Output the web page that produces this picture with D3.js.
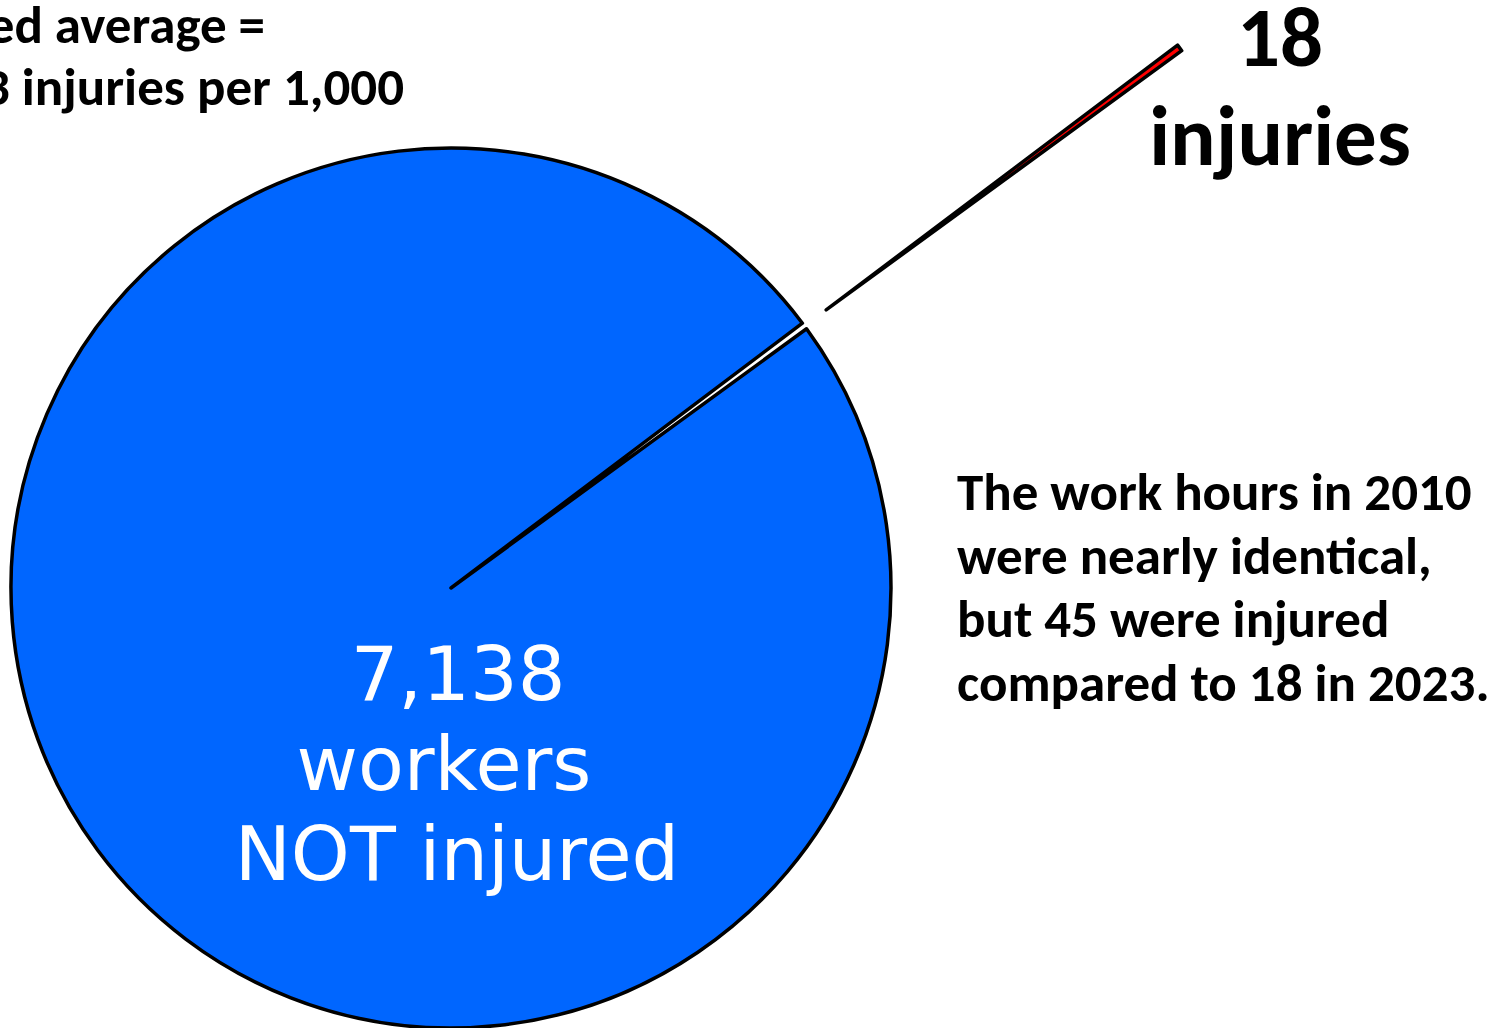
<!DOCTYPE html>
<html>
<head>
<meta charset="utf-8">
<script src="https://cdn.jsdelivr.net/npm/d3@7"></script>
<style>
  body { margin: 0; background: #fff; }
  svg { display: block; }
</style>
</head>
<body>
<script>
const w = 1505;
const h = 1028;

// data
const categories = ['injured', 'not injured'];
const counts = [18, 7138];
const colors = ['#FF0000', '#0066FF'];
const injuredLines = ['18', 'injuries'];
const notInjuredLines = ['7,138', 'workers', 'NOT injured'];
const noteLines = ['The work hours in 2010', 'were nearly identical,', 'but 45 were injured', 'compared to 18 in 2023.'];
const avgLines = ['Weighted average =', '3 injuries per 1,000'];

const boldFont = 'Carlito, Calibri, Lato, sans-serif';
const plainFont = '"DejaVu Sans", Verdana, sans-serif';

const cx = 451, cy = 588, r = 440;
const explode = 467;
const deg = Math.PI / 180;
const a0 = 53.0 * deg;

const svg = d3.select('body').append('svg')
    .attr('width', w)
    .attr('height', h);

const pie = d3.pie()
    .sort(null)
    .startAngle(a0)
    .endAngle(a0 + 2 * Math.PI);

const arc = d3.arc().innerRadius(0).outerRadius(r);

const slices = pie(counts);

svg.append('g')
    .attr('transform', `translate(${cx},${cy})`)
  .selectAll('path')
    .data(slices)
    .enter()
    .append('path')
        .attr('d', arc)
        .attr('fill', (d, i) => colors[i])
        .attr('stroke', '#000')
        .attr('stroke-width', 3.5)
        .attr('stroke-linejoin', 'round')
        .attr('transform', (d, i) => {
            if (i !== 0) return null;
            const mid = (d.startAngle + d.endAngle) / 2;
            return `translate(${explode * Math.sin(mid)},${-explode * Math.cos(mid)})`;
        });

// label in the big slice
svg.append('g')
  .selectAll('text')
    .data(notInjuredLines)
    .enter()
    .append('text')
        .text(d => d)
        .attr('x', (d, i) => [458, 444, 457][i])
        .attr('y', (d, i) => 700 + i * 90)
        .attr('text-anchor', 'middle')
        .attr('font-family', plainFont)
        .attr('font-size', 75)
        .attr('fill', '#fff');

// label for exploded slice
svg.append('g')
  .selectAll('text')
    .data(injuredLines)
    .enter()
    .append('text')
        .text(d => d)
        .attr('x', 1280)
        .attr('y', (d, i) => 66 + i * 99)
        .attr('text-anchor', 'middle')
        .attr('font-family', boldFont)
        .attr('font-weight', 'bold')
        .attr('font-size', 85);

// note on the right
svg.append('g')
  .selectAll('text')
    .data(noteLines)
    .enter()
    .append('text')
        .text(d => d)
        .attr('x', 957)
        .attr('y', (d, i) => 510 + i * 63.5)
        .attr('font-family', boldFont)
        .attr('font-weight', 'bold')
        .attr('font-size', 53);

// top-left, partly cut off
svg.append('g')
  .selectAll('text')
    .data(avgLines)
    .enter()
    .append('text')
        .text(d => d)
        .attr('x', (d, i) => [265, 404][i])
        .attr('y', (d, i) => 43 + i * 62)
        .attr('text-anchor', 'end')
        .attr('font-family', boldFont)
        .attr('font-weight', 'bold')
        .attr('font-size', 53);
</script>
</body>
</html>
